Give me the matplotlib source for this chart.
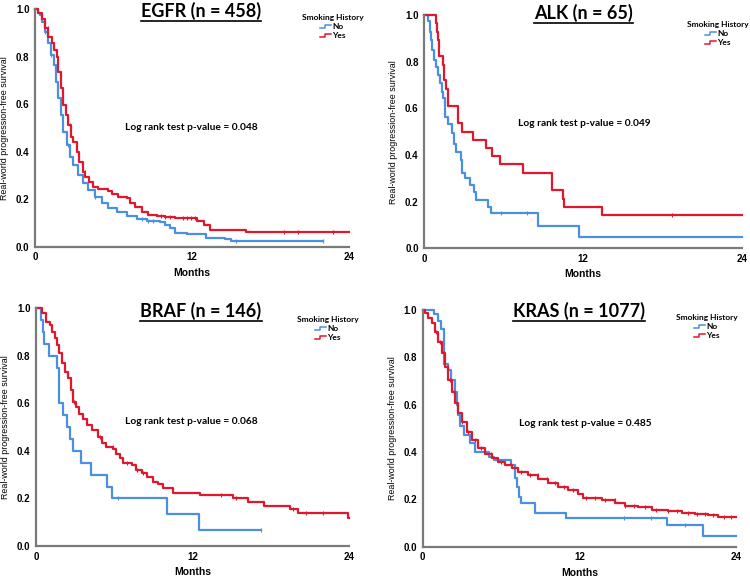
import numpy as np
import matplotlib

matplotlib.use('Agg')
import matplotlib.pyplot as plt
from matplotlib.lines import Line2D
from matplotlib.legend_handler import HandlerBase

RED = '#e0182d'
BLUE = '#4a90e2'

# ---- EGFR ----
egfr_yes_t = [0, 0.25, 0.51, 0.76, 1.02, 1.27, 1.45, 1.66, 1.78, 1.96, 2.17, 2.37, 2.55, 2.73,
              2.93, 3.18, 3.39, 3.64, 3.82, 4.15, 4.46, 4.84, 5.6, 5.86, 6.37, 7.0, 7.26, 7.64,
              8.15, 8.66, 9.3, 9.9, 10.7, 12.4, 12.9, 13.4, 16.1, 24]
egfr_yes_s = [1.0, 0.985, 0.96, 0.92, 0.884, 0.857, 0.83, 0.80, 0.737, 0.667, 0.597, 0.555, 0.512,
              0.463, 0.442, 0.40, 0.358, 0.316, 0.295, 0.274, 0.253, 0.243, 0.235, 0.221, 0.211,
              0.204, 0.183, 0.169, 0.148, 0.134, 0.13, 0.124, 0.12, 0.11, 0.092, 0.07, 0.061, 0.061]
egfr_yes_cens = [1.0, 2.7, 3.8, 9.6, 9.9, 10.3, 11.3, 11.6, 11.9, 12.2, 19.0, 20.1, 22.8]
egfr_no_t = [0, 0.2, 0.35, 0.51, 0.76, 1.02, 1.2, 1.45, 1.6, 1.78, 1.96, 2.17, 2.42, 2.68, 2.93,
             3.31, 3.69, 4.08, 4.59, 5.1, 5.6, 6.24, 7.0, 7.77, 8.54, 9.55, 9.94, 10.3, 10.7,
             11.6, 13.1, 14.5, 15.0, 22.0]
egfr_no_s = [1.0, 0.985, 0.976, 0.948, 0.906, 0.857, 0.808, 0.766, 0.695, 0.625, 0.555, 0.485,
             0.428, 0.379, 0.344, 0.302, 0.267, 0.239, 0.211, 0.183, 0.161, 0.145, 0.131, 0.117,
             0.109, 0.106, 0.09, 0.078, 0.059, 0.052, 0.038, 0.031, 0.025, 0.025]
egfr_no_cens = [0.8, 1.2, 2.5, 4.6, 8.2, 8.6, 9.0, 15.4, 22.0]

# ---- ALK ----
alk_yes_t = [0, 0.88, 0.98, 1.06, 1.11, 1.39, 1.49, 1.64, 1.82, 2.52, 2.87, 3.66, 4.66, 5.09,
             5.75, 7.49, 9.68, 10.46, 10.56, 13.41, 24]
alk_yes_s = [1.0, 0.967, 0.929, 0.893, 0.824, 0.786, 0.721, 0.681, 0.61, 0.539, 0.5, 0.464, 0.431,
             0.396, 0.36, 0.324, 0.25, 0.211, 0.179, 0.143, 0.143]
alk_yes_cens = [18.7]
alk_no_t = [0, 0.25, 0.43, 0.5, 0.6, 0.73, 0.88, 1.06, 1.18, 1.31, 1.44, 1.56, 1.82, 2.12, 2.27,
            2.39, 2.75, 2.87, 3.08, 3.45, 3.78, 3.88, 4.79, 5.04, 8.62, 11.7, 24]
alk_no_s = [1.0, 0.976, 0.929, 0.893, 0.85, 0.807, 0.779, 0.743, 0.707, 0.671, 0.643, 0.564, 0.533,
            0.493, 0.447, 0.414, 0.379, 0.324, 0.30, 0.271, 0.243, 0.207, 0.179, 0.15, 0.097,
            0.05, 0.05]
alk_no_cens = [5.8, 7.74]

# ---- BRAF ----
braf_yes_t = [0, 0.43, 0.77, 1.07, 1.25, 1.46, 1.63, 1.79, 2.02, 2.22, 2.48, 2.66, 2.86, 3.06,
              3.32, 3.57, 3.93, 4.26, 4.77, 5.03, 5.36, 5.92, 6.13, 6.43, 6.69, 7.33, 7.66, 8.09,
              8.48, 8.98, 9.37, 9.75, 10.5, 12.56, 15.1, 16.26, 17.5, 19.45, 20.1, 23.9, 24]
braf_yes_s = [1.0, 0.98, 0.944, 0.93, 0.90, 0.874, 0.846, 0.81, 0.77, 0.734, 0.705, 0.656, 0.607,
              0.583, 0.555, 0.533, 0.509, 0.49, 0.46, 0.432, 0.418, 0.407, 0.387, 0.369, 0.351,
              0.341, 0.32, 0.309, 0.292, 0.271, 0.26, 0.245, 0.224, 0.215, 0.201, 0.187, 0.17,
              0.155, 0.14, 0.117, 0.117]
braf_yes_cens = [2.9, 4.9, 5.9, 7.0, 7.7, 8.2, 14.2, 15.3, 19.7, 20.7, 22.0]
braf_no_t = [0, 0.36, 0.51, 0.64, 1.02, 1.63, 1.74, 1.79, 2.04, 2.35, 2.6, 2.86, 3.45, 4.19, 5.46,
             5.85, 10.0, 12.5, 17.2]
braf_no_s = [1.0, 0.95, 0.90, 0.85, 0.80, 0.75, 0.70, 0.60, 0.55, 0.50, 0.45, 0.40, 0.35, 0.30,
             0.25, 0.20, 0.135, 0.068, 0.068]
braf_no_cens = [6.3, 17.2]

# ---- KRAS ----
kras_yes_t = [0, 0.18, 0.43, 0.69, 0.94, 1.2, 1.46, 1.71, 1.97, 2.22, 2.48, 2.73, 2.99, 3.37, 3.75,
              4.26, 4.77, 5.28, 5.8, 6.31, 6.82, 7.33, 8.09, 8.86, 9.62, 10.39, 11.16, 11.92,
              12.3, 13.71, 14.73, 15.5, 16.52, 17.54, 18.8, 19.84, 20.86, 21.88, 22.64, 24]
kras_yes_s = [1.0, 0.986, 0.965, 0.944, 0.908, 0.866, 0.817, 0.76, 0.704, 0.655, 0.606, 0.563,
              0.528, 0.486, 0.451, 0.415, 0.392, 0.373, 0.359, 0.345, 0.331, 0.317, 0.303, 0.285,
              0.268, 0.251, 0.239, 0.223, 0.207, 0.197, 0.183, 0.172, 0.166, 0.155, 0.152, 0.144,
              0.138, 0.134, 0.124, 0.124]
kras_yes_cens = [1.0, 1.3, 1.6, 1.9, 2.1, 2.4, 3.0, 3.5, 4.0, 4.5, 5.2, 6.0, 6.8, 7.5, 8.2, 8.8,
                 9.5, 10.1, 10.8, 11.5, 12.5, 13.2, 14.0, 14.7, 15.5, 16.2, 17.0, 17.9, 18.8,
                 19.5, 20.3, 21.0, 21.6, 22.2, 23.1, 23.6]
kras_no_t = [0, 0.85, 1.2, 1.4, 1.65, 1.95, 2.2, 2.45, 2.6, 2.7, 2.83, 3.2, 3.6, 3.98, 5.1, 5.5,
             6.8, 7.05, 7.2, 7.35, 7.56, 8.6, 11.0, 18.7, 21.5, 24]
kras_no_s = [1.0, 0.985, 0.955, 0.92, 0.77, 0.745, 0.705, 0.655, 0.60, 0.555, 0.51, 0.47, 0.44,
             0.40, 0.38, 0.366, 0.345, 0.29, 0.254, 0.21, 0.183, 0.144, 0.123, 0.092, 0.045, 0.045]
kras_no_cens = [15.4, 17.5, 20.1]

panels = [
    ('EGFR (n = 458)', '0.048', egfr_no_t, egfr_no_s, egfr_no_cens,
     egfr_yes_t, egfr_yes_s, egfr_yes_cens),
    ('ALK (n = 65)', '0.049', alk_no_t, alk_no_s, alk_no_cens,
     alk_yes_t, alk_yes_s, alk_yes_cens),
    ('BRAF (n = 146)', '0.068', braf_no_t, braf_no_s, braf_no_cens,
     braf_yes_t, braf_yes_s, braf_yes_cens),
    ('KRAS (n = 1077)', '0.485', kras_no_t, kras_no_s, kras_no_cens,
     kras_yes_t, kras_yes_s, kras_yes_cens),
]

# axes boxes in pixels: left, right, top, bottom
W, H = 750, 578
boxes = [(35, 349, 9.3, 246.7), (424.3, 741.7, 15, 248.3),
         (36, 349.3, 308.3, 546), (422.7, 736, 310, 546.7)]
title_pos = [(201, 11), (583.5, 13), (201, 311), (579, 311)]
logrank_pos = [(191.5, 127), (584.5, 123), (191.5, 422), (585, 423)]
legend_pos = [(298, 10), (683, 17), (293, 312), (672, 310)]


class StepHandler(HandlerBase):
    def create_artists(self, legend, orig_handle, xdescent, ydescent,
                       width, height, fontsize, trans):
        x0 = -xdescent
        xs = [x0, x0 + width * 0.45, x0 + width * 0.45, x0 + width]
        ys = [height * 0.15, height * 0.15, height * 0.75, height * 0.75]
        line = Line2D(xs, ys, color=orig_handle.get_color(), lw=1.1, transform=trans)
        return [line]


def surv_at(t, s, ct):
    idx = np.searchsorted(t, ct, side='right') - 1
    return np.asarray(s)[idx]


fig = plt.figure(figsize=(7.5, 5.78), dpi=100)
titles = []

for i, (title, pval, nt, ns, nc, yt, ys, yc) in enumerate(panels):
    l, r, t, b = boxes[i]
    ax = fig.add_axes([l / W, 1 - b / H, (r - l) / W, (b - t) / H])

    ax.step(nt, ns, where='post', color=BLUE, lw=1.6, clip_on=False)
    ax.step(yt, ys, where='post', color=RED, lw=1.6, clip_on=False)
    ax.plot(nc, surv_at(nt, ns, nc), ls='none', marker='|', ms=3.5, mew=0.8,
            color=BLUE, clip_on=False)
    ax.plot(yc, surv_at(yt, ys, yc), ls='none', marker='|', ms=3.5, mew=0.8,
            color=RED, clip_on=False)

    ax.set_xlim(0, 24)
    ax.set_ylim(0, 1.0)
    ax.set_xticks([0, 12, 24])
    ax.set_yticks([0, 0.2, 0.4, 0.6, 0.8, 1.0])
    ax.set_yticklabels(['0.0', '0.2', '0.4', '0.6', '0.8', '1.0'])
    ax.tick_params(length=0, pad=4, labelsize=7)
    for lab in ax.get_xticklabels() + ax.get_yticklabels():
        lab.set_fontweight('bold')
        lab.set_family('Liberation Sans')
    for side in ['top', 'right']:
        ax.spines[side].set_visible(False)
    for side in ['left', 'bottom']:
        ax.spines[side].set_color('#7a7a7a')
        ax.spines[side].set_linewidth(1.6)

    ax.set_xlabel('Months', fontsize=7.5, fontweight='bold', family='Liberation Sans',
                  labelpad=4)
    ax.set_ylabel('Real-world progression-free survival', fontsize=6.4,
                  family='Liberation Sans', labelpad=5)

    tx, ty = title_pos[i]
    titles.append(fig.text(tx / W, 1 - ty / H, title, ha='center', va='center',
                           fontsize=13, fontweight='bold', family='Lato'))

    lx, ly = logrank_pos[i]
    fig.text(lx / W, 1 - ly / H, 'Log rank test p-value = ' + pval, ha='center',
             va='center', fontsize=7.3, fontweight='bold', family='Lato')

    hx, hy = legend_pos[i]
    h_no = Line2D([], [], color=BLUE)
    h_yes = Line2D([], [], color=RED)
    ax.legend([h_no, h_yes], ['No', 'Yes'], title='Smoking History',
              handler_map={Line2D: StepHandler()},
              loc='upper left', bbox_to_anchor=(hx / W, 1 - hy / H),
              bbox_transform=fig.transFigure, frameon=False, borderpad=0,
              handlelength=1.3, handletextpad=0.1, labelspacing=0.25,
              prop={'family': 'Lato', 'weight': 'bold', 'size': 6},
              title_fontproperties={'family': 'Lato', 'weight': 'bold', 'size': 6})

# underline the panel titles
fig.canvas.draw()
renderer = fig.canvas.get_renderer()
for txt in titles:
    bb = txt.get_window_extent(renderer).transformed(fig.transFigure.inverted())
    y = bb.y0 - 1.0 / H
    fig.add_artist(Line2D([bb.x0, bb.x1], [y, y], color='black', lw=1.2,
                          transform=fig.transFigure))

fig.savefig('out.png', dpi=100)
